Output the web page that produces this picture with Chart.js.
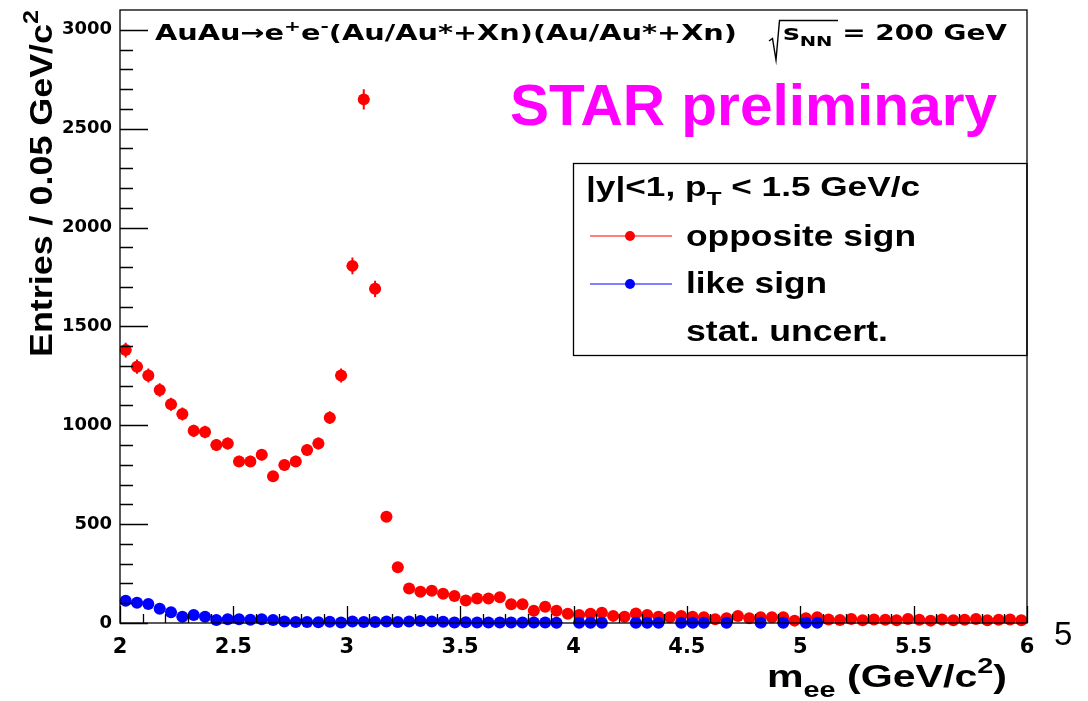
<!DOCTYPE html>
<html>
<head>
<meta charset="utf-8">
<title>Dielectron invariant mass, AuAu 200 GeV</title>
<script src="https://cdn.jsdelivr.net/npm/chart.js@4.4.1/dist/chart.umd.min.js"></script>
<style>
  html, body { margin: 0; padding: 0; background: #ffffff; }
  canvas { display: block; }
</style>
</head>
<body>
<canvas id="mass" width="1088" height="701"></canvas>
<script>
// Bin centres of the m_ee histogram (0.05 GeV/c^2 bins from 2 to 6)
const massBins = [
  2.025, 2.075, 2.125, 2.175, 2.225, 2.275, 2.325, 2.375, 2.425, 2.475,
  2.525, 2.575, 2.625, 2.675, 2.725, 2.775, 2.825, 2.875, 2.925, 2.975,
  3.025, 3.075, 3.125, 3.175, 3.225, 3.275, 3.325, 3.375, 3.425, 3.475,
  3.525, 3.575, 3.625, 3.675, 3.725, 3.775, 3.825, 3.875, 3.925, 3.975,
  4.025, 4.075, 4.125, 4.175, 4.225, 4.275, 4.325, 4.375, 4.425, 4.475,
  4.525, 4.575, 4.625, 4.675, 4.725, 4.775, 4.825, 4.875, 4.925, 4.975,
  5.025, 5.075, 5.125, 5.175, 5.225, 5.275, 5.325, 5.375, 5.425, 5.475,
  5.525, 5.575, 5.625, 5.675, 5.725, 5.775, 5.825, 5.875, 5.925, 5.975
];

// Opposite-sign e+e- pair counts per bin
const oppositeSign = [
  1380, 1296, 1252, 1178, 1106, 1057, 972, 966, 900, 908,
  817, 817, 851, 742, 799, 817, 875, 908, 1038, 1252,
  1806, 2648, 1690, 537, 282, 175, 158, 163, 148, 137,
  114, 124, 124, 130, 95, 95, 62, 82, 62, 47,
  40, 47, 52, 36, 32, 48, 40, 32, 29, 35,
  32, 29, 19, 24, 35, 24, 29, 29, 29, 12,
  24, 29, 18, 15, 20, 14, 18, 16, 14, 20,
  16, 12, 18, 14, 16, 20, 14, 16, 18, 14
];

// Like-sign pair counts per bin (null = empty bin, not drawn)
const likeSign = [
  113, 103, 96, 72, 54, 32, 40, 32, 15, 19,
  19, 17, 19, 15, 8, 5, 5, 4, 6, 2,
  7, 5, 5, 8, 5, 8, 10, 8, 6, 3,
  4, 3, 2, 3, 2, 3, 2, 2, 1, null,
  1, 1, 1, null, null, 1, 1, 1, null, 1,
  1, 1, null, 1, null, null, 1, null, 1, null,
  1, 1, null, null, null, null, null, null, null, null,
  null, null, null, null, null, null, null, null, null, null
];

const xTickLabels = [2, 2.5, 3, 3.5, 4, 4.5, 5, 5.5, 6];
const yTickLabels = [0, 500, 1000, 1500, 2000, 2500, 3000];

const HALF_BIN = 0.025;
const RED = '#ff0000';
const BLUE = '#0000ff';
const SANS = '"Liberation Sans", Arial, Helvetica, sans-serif';
const WIDE = '"DejaVu Sans", sans-serif';

function toPoints(values) {
  const pts = [];
  values.forEach((v, i) => { if (v !== null) pts.push({ x: massBins[i], y: v }); });
  return pts;
}

// Rich text: runs of {t, s (size factor), dy (baseline shift in em)}
function runsWidth(ctx, runs, size, weight, family) {
  let w = 0;
  for (const r of runs) {
    ctx.font = `${weight} ${size * (r.s || 1)}px ${family}`;
    w += ctx.measureText(r.t).width;
  }
  return w;
}
function drawRuns(ctx, runs, x, y, size, opt) {
  const o = Object.assign({ weight: 'bold', family: SANS, color: '#000', width: null, angle: 0 }, opt || {});
  const natural = runsWidth(ctx, runs, size, o.weight, o.family);
  const sx = o.width ? o.width / natural : 1;
  ctx.save();
  ctx.translate(x, y);
  if (o.angle) ctx.rotate(o.angle);
  ctx.scale(sx, 1);
  ctx.fillStyle = o.color;
  ctx.textAlign = 'left';
  ctx.textBaseline = 'alphabetic';
  let cx = 0;
  for (const r of runs) {
    ctx.font = `${o.weight} ${size * (r.s || 1)}px ${o.family}`;
    ctx.fillText(r.t, cx, (r.dy || 0) * size);
    cx += ctx.measureText(r.t).width;
  }
  ctx.restore();
}

// Vertical (and bin-width horizontal) statistical error bars
const errorBars = {
  id: 'errorBars',
  beforeDatasetDraw(chart, args) {
    const ds = chart.data.datasets[args.index];
    const xs = chart.scales.x, ys = chart.scales.y;
    const ctx = chart.ctx;
    ctx.save();
    ctx.strokeStyle = ds.backgroundColor;
    ctx.lineWidth = 2;
    ctx.beginPath();
    for (const p of ds.data) {
      const err = Math.sqrt(p.y);
      const px = xs.getPixelForValue(p.x);
      const py = ys.getPixelForValue(p.y);
      ctx.moveTo(px, ys.getPixelForValue(p.y - err));
      ctx.lineTo(px, ys.getPixelForValue(p.y + err));
      ctx.moveTo(xs.getPixelForValue(p.x - HALF_BIN), py);
      ctx.lineTo(xs.getPixelForValue(p.x + HALF_BIN), py);
    }
    ctx.stroke();
    ctx.restore();
  }
};

// Frame with inward major/minor ticks, titles, legend box
const decorations = {
  id: 'decorations',
  afterDraw(chart) {
    const ctx = chart.ctx;
    const a = chart.chartArea;
    const xs = chart.scales.x, ys = chart.scales.y;

    ctx.save();
    ctx.strokeStyle = '#000';
    ctx.lineWidth = 1.3;
    ctx.strokeRect(a.left, a.top, a.right - a.left, a.bottom - a.top);

    ctx.beginPath();
    ctx.lineWidth = 1.3;
    for (let v = 0; v <= 3000; v += 100) {
      const py = Math.round(ys.getPixelForValue(v)) + 0.5;
      const len = (v % 500 === 0) ? 28 : 13;
      ctx.moveTo(a.left, py);
      ctx.lineTo(a.left + len, py);
    }
    for (let k = 0; k <= 40; k++) {
      const v = 2 + k * 0.1;
      const px = Math.round(xs.getPixelForValue(v)) + 0.5;
      const len = (k % 5 === 0) ? 17 : 9;
      ctx.moveTo(px, a.bottom);
      ctx.lineTo(px, a.bottom - len);
    }
    ctx.stroke();

    // Header line
    drawRuns(ctx, [
      { t: 'AuAu\u2192e' }, { t: '+', s: 0.7, dy: -0.45 }, { t: 'e' }, { t: '-', s: 0.7, dy: -0.45 },
      { t: '(Au/Au*+Xn)(Au/Au*+Xn)' }
    ], 155, 40, 21, { width: 582, family: WIDE });

    // sqrt(s_NN)
    ctx.beginPath();
    ctx.lineWidth = 1.4;
    ctx.moveTo(769, 41);
    ctx.lineTo(772.5, 38.5);
    ctx.lineTo(776, 60);
    ctx.lineTo(779.5, 20.5);
    ctx.lineTo(838, 20.5);
    ctx.stroke();
    drawRuns(ctx, [
      { t: 's' }, { t: 'NN', s: 0.7, dy: 0.3 }, { t: ' = 200 GeV' }
    ], 783, 40, 21, { width: 224, family: WIDE });

    drawRuns(ctx, [{ t: 'STAR preliminary' }], 510, 125, 58, { width: 487, color: '#ff00ff' });

    // Legend box
    const lx = 573.5, ly = 163.5, lw = a.right - 573.5, lh = 192;
    ctx.lineWidth = 1.3;
    ctx.strokeRect(lx, ly, lw, lh);
    drawRuns(ctx, [
      { t: '|y|<1, p' }, { t: 'T', s: 0.7, dy: 0.32 }, { t: ' < 1.5 GeV/c' }
    ], 586, 196, 27, { width: 334 });
    const entries = [
      { color: RED, text: 'opposite sign', y: 236, base: 246, w: 230 },
      { color: BLUE, text: 'like sign', y: 284, base: 293, w: 141 }
    ];
    for (const e of entries) {
      ctx.strokeStyle = e.color;
      ctx.lineWidth = 1.2;
      ctx.beginPath();
      ctx.moveTo(590, e.y); ctx.lineTo(672, e.y);
      ctx.stroke();
      ctx.fillStyle = e.color;
      ctx.beginPath();
      ctx.arc(630, e.y, 5, 0, Math.PI * 2);
      ctx.fill();
      drawRuns(ctx, [{ t: e.text }], 686, e.base, 29, { width: e.w });
    }
    drawRuns(ctx, [{ t: 'stat. uncert.' }], 686, 341, 29, { width: 202 });

    // Axis titles
    drawRuns(ctx, [
      { t: 'm' }, { t: 'ee', s: 0.7, dy: 0.3 }, { t: ' (GeV/c' }, { t: '2', s: 0.7, dy: -0.45 }, { t: ')' }
    ], 767, 687, 32, { width: 240 });
    drawRuns(ctx, [
      { t: 'Entries / 0.05 GeV/c' }, { t: '2', s: 0.7, dy: -0.45 }
    ], 52, 357, 32, { width: 347, angle: -Math.PI / 2 });

    drawRuns(ctx, [{ t: '5' }], 1054, 645, 33, { weight: 'normal' });
    ctx.restore();
  }
};

const tickFont = { family: '"DejaVu Sans", sans-serif', weight: 'bold' };

new Chart(document.getElementById('mass'), {
  type: 'scatter',
  data: {
    datasets: [
      {
        label: 'like sign',
        data: toPoints(likeSign),
        backgroundColor: BLUE,
        borderColor: BLUE,
        pointRadius: 6,
        pointBorderWidth: 0,
        pointHoverRadius: 6,
        order: 0,
        clip: false
      },
      {
        label: 'opposite sign',
        data: toPoints(oppositeSign),
        backgroundColor: RED,
        borderColor: RED,
        pointRadius: 6,
        pointBorderWidth: 0,
        pointHoverRadius: 6,
        order: 1,
        clip: false
      }
    ]
  },
  options: {
    responsive: false,
    animation: false,
    devicePixelRatio: 1,
    events: [],
    layout: { padding: { left: 0, right: 61, top: 10, bottom: 0 } },
    plugins: { legend: { display: false }, tooltip: { enabled: false } },
    scales: {
      x: {
        type: 'linear',
        min: 2,
        max: 6,
        grid: { display: false, drawTicks: false },
        border: { display: false },
        afterBuildTicks(s) { s.ticks = xTickLabels.map(v => ({ value: v })); },
        afterFit(s) { s.height = 78; s.paddingLeft = 0; s.paddingRight = 0; },
        ticks: {
          autoSkip: false,
          maxRotation: 0,
          padding: 12,
          color: '#000',
          font: Object.assign({ size: 21 }, tickFont),
          callback: v => String(v)
        }
      },
      y: {
        type: 'linear',
        min: 0,
        max: 3100,
        grid: { display: false, drawTicks: false },
        border: { display: false },
        afterBuildTicks(s) { s.ticks = yTickLabels.map(v => ({ value: v })); },
        afterFit(s) { s.width = 120; s.paddingTop = 0; s.paddingBottom = 0; },
        ticks: {
          autoSkip: false,
          padding: 8,
          color: '#000',
          font: Object.assign({ size: 18 }, tickFont),
          callback: v => String(v)
        }
      }
    }
  },
  plugins: [errorBars, decorations]
});
</script>
</body>
</html>
